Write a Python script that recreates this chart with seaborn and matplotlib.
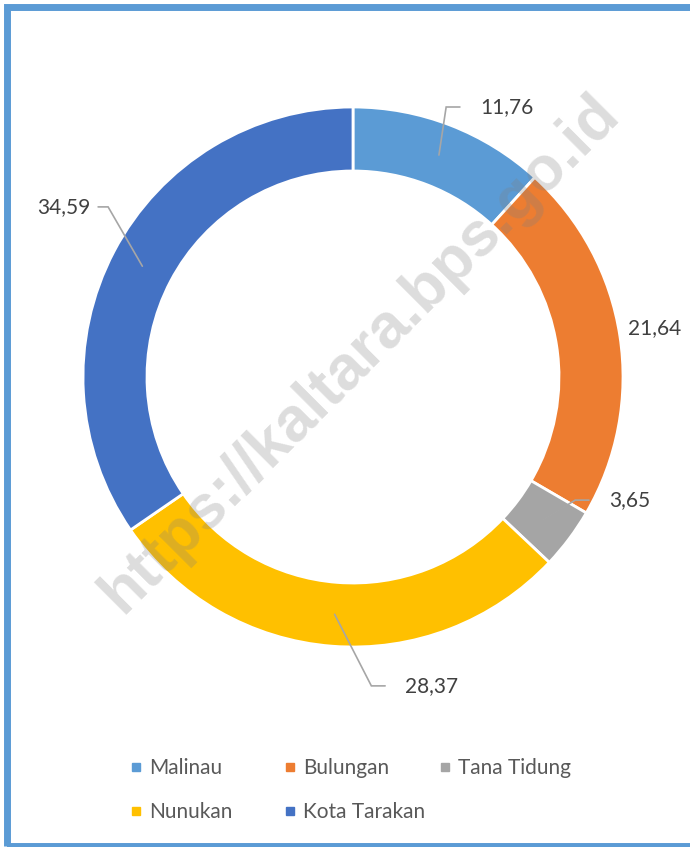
import numpy as np
import matplotlib
matplotlib.use("Agg")
import matplotlib.pyplot as plt
from matplotlib.lines import Line2D
from matplotlib.patches import Rectangle
import seaborn as sns

# Data
regions = ["Malinau", "Bulungan", "Tana Tidung", "Nunukan", "Kota Tarakan"]
shares = [11.76, 21.64, 3.65, 28.37, 34.59]
value_labels = ["11,76", "21,64", "3,65", "28,37", "34,59"]
colors = ["#5B9BD5", "#ED7D31", "#A5A5A5", "#FFC000", "#4472C4"]

sns.set_theme(style="white")
plt.rcParams["font.family"] = ["Lato", "DejaVu Sans"]

W, H = 690, 847
cx, cy, R = 353, 377, 270  # donut centre / radius in pixels

fig = plt.figure(figsize=(W / 100, H / 100), dpi=100)
ax = fig.add_axes([0, 0, 1, 1])

ring = 0.237
wedges, _ = ax.pie(shares, colors=colors, startangle=90, counterclock=False,
                   radius=1, wedgeprops=dict(width=ring, edgecolor="white", linewidth=2))
ax.set_xlim(-cx / R, (W - cx) / R)
ax.set_ylim(-(H - cy) / R, cy / R)
ax.set_aspect("equal")
ax.axis("off")

# data label positions (text anchor, in radius units) and alignment
label_pos = [(0.47, 1.0), (1.02, 0.181), (0.948, -0.456), (0.193, -1.144), (-0.974, 0.63)]
label_ha = ["left", "left", "left", "left", "right"]
leader = [True, False, True, True, True]

mid_r = 1 - ring / 2
for w, txt, (tx, ty), ha, has_line in zip(wedges, value_labels, label_pos, label_ha, leader):
    ang = np.deg2rad((w.theta1 + w.theta2) / 2)
    px, py = mid_r * np.cos(ang), mid_r * np.sin(ang)
    ax.text(tx, ty, txt, ha=ha, va="center", fontsize=15, color="#404040")
    if has_line:
        if ha == "left":
            end, elbow = tx - 0.074, tx - 0.125
        else:
            end, elbow = tx + 0.03, tx + 0.067
        ax.plot([px, elbow, end], [py, ty, ty], color="#A6A6A6", lw=1.2,
                solid_joinstyle="miter")

# watermark
fig.text(0.522, 0.582, "https://kaltara.bps.go.id", rotation=45, ha="center", va="center",
         fontsize=45, fontweight="bold", family="Liberation Sans", color="gray",
         alpha=0.27, zorder=10)

# legend, one entry per slot so columns are evenly spaced
col_x = [131, 285, 440]
row_y = [768, 812]
for i, (name, c) in enumerate(zip(regions, colors)):
    r, col = divmod(i, 3)
    h = Line2D([], [], marker="s", linestyle="", color=c, markersize=6)
    fig.legend(handles=[h], labels=[name], loc="center left",
               bbox_to_anchor=(col_x[col] / W, 1 - row_y[r] / H),
               frameon=False, borderpad=0, borderaxespad=0,
               handlelength=0.5, handletextpad=0.35, prop={"size": 15},
               labelcolor="#595959")

# chart frame
fig.patches.append(Rectangle((6.5 / W, 1 - 846 / H), 2, (846 - 7) / H,
                             transform=fig.transFigure, fill=False,
                             edgecolor="#5B9BD5", linewidth=5))

fig.savefig("out.png", dpi=100)
